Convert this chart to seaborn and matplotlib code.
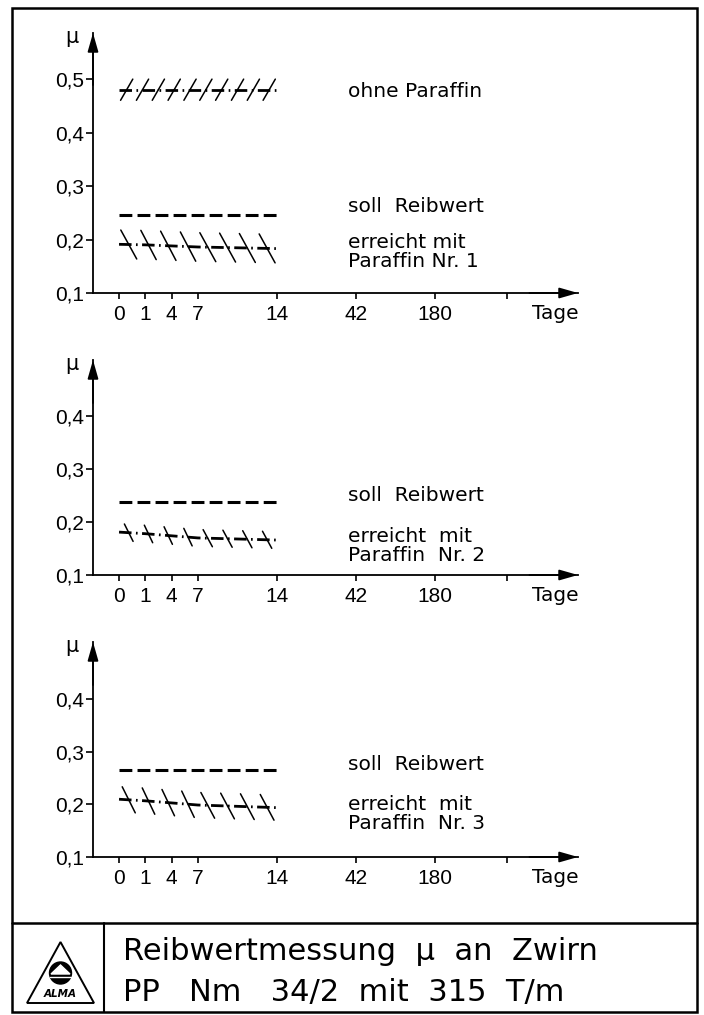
import numpy as np
import matplotlib
matplotlib.use("Agg")
import matplotlib.pyplot as plt
import matplotlib.patheffects as pe
from matplotlib.patches import Rectangle, Polygon, Circle
from matplotlib.lines import Line2D
import seaborn as sns

sns.set_theme(style="ticks")
plt.rcParams["font.family"] = ["DejaVu Sans"]
plt.rcParams["text.color"] = "black"
plt.rcParams["axes.labelcolor"] = "black"
plt.rcParams["xtick.color"] = "black"
plt.rcParams["ytick.color"] = "black"

# Tage auf der x-Achse (ungleichmaessig geteilt wie im Original)
tick_tage = [0, 1, 4, 7, 14, 42, 180]
tick_pos = [0, 1, 2, 3, 6, 9, 12]
tage = [0, 1, 4, 7, 14]

# Reibwerte
ohne_paraffin = [0.480, 0.480, 0.480, 0.480, 0.480]
soll_1 = [0.245, 0.245, 0.245, 0.245, 0.245]
erreicht_1 = [0.191, 0.190, 0.188, 0.186, 0.183]
soll_2 = [0.238, 0.238, 0.238, 0.238, 0.238]
erreicht_2 = [0.181, 0.178, 0.174, 0.170, 0.166]
soll_3 = [0.265, 0.265, 0.265, 0.265, 0.265]
erreicht_3 = [0.210, 0.207, 0.203, 0.199, 0.194]

yticks_1 = [0.1, 0.2, 0.3, 0.4, 0.5]
yticks_23 = [0.1, 0.2, 0.3, 0.4]

W, H = 704, 1015
fig = plt.figure(figsize=(W / 100, H / 100), dpi=100)
ziffern = ["Liberation Sans Narrow", "Liberation Sans", "DejaVu Sans"]


def px_axes(left, top, right, bottom):
    return fig.add_axes([left / W, 1 - bottom / H, (right - left) / W, (bottom - top) / H])


def schraffiert(ax, x, y, winkel, abstand, laenge):
    # strichpunktierte Linie
    sns.lineplot(x=x, y=y, ax=ax, color="black", linewidth=2.0,
                 linestyle=(0, (4.5, 1.6, 0.6, 1.6)))
    # Schraegstriche quer durch die Linie
    sns.lineplot(x=x, y=y, ax=ax, color="black", linewidth=1.1, linestyle="-",
                 path_effects=[pe.TickedStroke(spacing=abstand, angle=winkel, length=laenge),
                               pe.TickedStroke(spacing=abstand, angle=winkel - 180, length=laenge)])


def gestrichelt(ax, x, y):
    sns.lineplot(x=x, y=y, ax=ax, color="black", linewidth=2.2,
                 linestyle=(0, (4.2, 1.7)))


def achsen(ax, ytop, yticks):
    ax.set_xlim(-0.99, 17.45)
    ax.set_ylim(0.1, ytop)
    ax.patch.set_alpha(0)
    for s in ["top", "right"]:
        ax.spines[s].set_visible(False)
    for s in ["left", "bottom"]:
        ax.spines[s].set_linewidth(1.3)
        ax.spines[s].set_color("black")
    ax.set_yticks(yticks)
    ax.set_yticklabels([f"{v:.1f}".replace(".", ",") for v in yticks], family=ziffern)
    ax.set_xticks(tick_pos + [14.75])
    ax.set_xticklabels([str(t) for t in tick_tage] + [""], family=ziffern)
    ax.tick_params(axis="y", direction="out", length=5, width=1.2, pad=1.5,
                   labelsize=15, colors="black", left=True)
    ax.tick_params(axis="x", direction="out", length=4.5, width=1.2, pad=4,
                   labelsize=15, colors="black", bottom=True)
    ax.set_xlabel("")
    ax.set_ylabel("")
    pfeil = dict(arrowstyle="-|>,head_length=0.7,head_width=0.2", color="black",
                 lw=1.3, shrinkA=0, shrinkB=0, mutation_scale=16)
    ax.annotate("", xy=(0, 1.0), xytext=(0, 0.8), xycoords="axes fraction", arrowprops=pfeil)
    ax.annotate("", xy=(1.0, 0), xytext=(0.9, 0), xycoords="axes fraction", arrowprops=pfeil)
    ax.annotate("μ", xy=(0, 1), xycoords="axes fraction", xytext=(-15, -3),
                textcoords="offset points", ha="center", va="center", fontsize=15)
    ax.annotate("Tage", xy=(16.58, 0), xycoords=("data", "axes fraction"), xytext=(0, -14.5),
                textcoords="offset points", ha="center", va="center", fontsize=14.5)


x = np.interp(tage, tick_tage, tick_pos)
tx = 8.7
fs = 14.5

# Diagramm 1
ax1 = px_axes(93, 33, 578, 293)
achsen(ax1, 0.586, yticks_1)
schraffiert(ax1, x, ohne_paraffin, 60, 11.0, 0.8)
gestrichelt(ax1, x, soll_1)
schraffiert(ax1, x, erreicht_1, 120, 14.0, 0.85)
ax1.text(tx, 0.476, "ohne Paraffin", fontsize=fs, va="center")
ax1.text(tx, 0.261, "soll  Reibwert", fontsize=fs, va="center")
ax1.text(tx, 0.176, "erreicht mit\nParaffin Nr. 1", fontsize=fs, va="center", linespacing=1.0)

# Diagramm 2
ax2 = px_axes(93, 360, 578, 575)
achsen(ax2, 0.506, yticks_23)
gestrichelt(ax2, x, soll_2)
schraffiert(ax2, x, erreicht_2, 120, 14.0, 0.5)
ax2.text(tx, 0.251, "soll  Reibwert", fontsize=fs, va="center")
ax2.text(tx, 0.155, "erreicht  mit\nParaffin  Nr. 2", fontsize=fs, va="center", linespacing=1.0)

# Diagramm 3
ax3 = px_axes(93, 642, 578, 857)
achsen(ax3, 0.5095, yticks_23)
gestrichelt(ax3, x, soll_3)
schraffiert(ax3, x, erreicht_3, 120, 14.0, 0.75)
ax3.text(tx, 0.277, "soll  Reibwert", fontsize=fs, va="center")
ax3.text(tx, 0.182, "erreicht  mit\nParaffin  Nr. 3", fontsize=fs, va="center", linespacing=1.0)

# Rahmen und Schriftfeld
fig.add_artist(Rectangle((12 / W, 1 - 1012 / H), (697 - 12) / W, (1012 - 8) / H,
                         fill=False, lw=1.8, color="black", transform=fig.transFigure))
fig.add_artist(Line2D([12 / W, 697 / W], [1 - 923 / H, 1 - 923 / H], lw=1.8, color="black"))
fig.add_artist(Line2D([104 / W, 104 / W], [1 - 923 / H, 1 - 1012 / H], lw=1.5, color="black"))

fig.text(123 / W, 1 - 952 / H, "Reibwertmessung  μ  an  Zwirn", fontsize=22, va="center")
fig.text(123 / W, 1 - 992 / H, "PP   Nm   34/2  mit  315  T/m", fontsize=22, va="center")

# Firmenzeichen
lg = px_axes(14, 925, 102, 1010)
lg.set_xlim(0, 88)
lg.set_ylim(85, 0)
lg.axis("off")
lg.add_patch(Polygon([(13, 78), (80, 78), (46.5, 17)], closed=True, fill=False, lw=1.4, ec="black"))
lg.add_patch(Circle((46.5, 48), 11, color="black"))
lg.add_patch(Polygon([(37, 49), (56, 49), (46.5, 40)], closed=True, color="white"))
lg.plot([36, 57], [52, 52], color="white", lw=1)
lg.text(46.5, 69, "ALMA", ha="center", va="center", fontsize=7.5, fontweight="bold", style="italic")

fig.savefig("out.png", dpi=100)
